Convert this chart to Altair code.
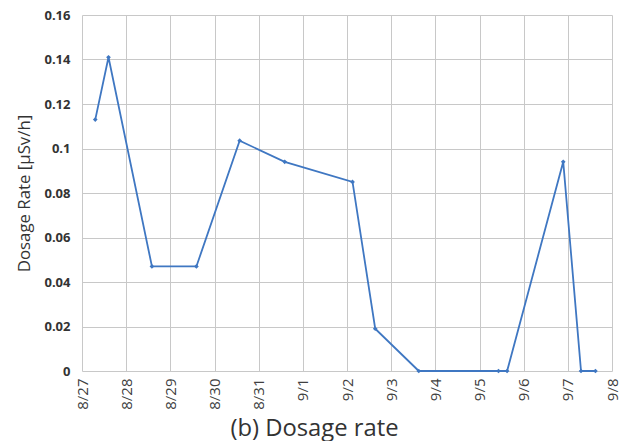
import altair as alt
import pandas as pd

times = [
    "2020-08-27T07:12", "2020-08-27T14:24", "2020-08-28T14:00", "2020-08-29T14:10",
    "2020-08-30T13:40", "2020-08-31T14:10", "2020-09-02T03:00", "2020-09-02T15:20",
    "2020-09-03T15:00", "2020-09-05T10:20", "2020-09-05T15:00", "2020-09-06T21:30",
    "2020-09-07T07:10", "2020-09-07T15:00",
]
dose = [0.113, 0.141, 0.047, 0.047, 0.1035, 0.094, 0.085, 0.019,
        0.0, 0.0, 0.0, 0.094, 0.0, 0.0]

tick_days = [(8, 27), (8, 28), (8, 29), (8, 30), (8, 31), (9, 1), (9, 2),
             (9, 3), (9, 4), (9, 5), (9, 6), (9, 7), (9, 8)]
y_ticks = [0, 0.02, 0.04, 0.06, 0.08, 0.1, 0.12, 0.14, 0.16]

df = pd.DataFrame({"t": times, "v": dose})

tick_vals = [alt.DateTime(year=2020, month=m, date=d, utc=True) for m, d in tick_days]
domain = [tick_vals[0], tick_vals[-1]]

font = "Open Sans"
x = alt.X("t:T", scale=alt.Scale(type="utc", domain=domain),
          axis=alt.Axis(values=tick_vals, format="%-m/%-d", labelAngle=270,
                        title="(b) Dosage rate", titleFontSize=23.8,
                        titleFontWeight="normal", titleColor="#333333",
                        titleFont=font, titleX=232, titleY=64,
                        titleAlign="center", titleBaseline="alphabetic",
                        labelFont=font, labelFontSize=15, labelColor="#404040",
                        labelPadding=7, ticks=False, domain=False,
                        gridColor="#c8c8c8", labelFlush=False))
y = alt.Y("v:Q", scale=alt.Scale(domain=[0, 0.16], nice=False),
          axis=alt.Axis(values=y_ticks, format=".2~f", title="Dosage Rate [μSv/h]",
                        titleFont=font, titleFontSize=16.8, titleFontWeight="normal",
                        titleColor="#333333", titleX=-57.5, titleY=178,
                        titleAlign="center", titleBaseline="middle", titleAngle=270,
                        labelFont=font, labelFontSize=13, labelColor="#333333",
                        labelFontWeight="bold", labelPadding=12,
                        ticks=False, domain=False, gridColor="#c8c8c8"))

color = "#3f77c2"
line = alt.Chart(df).mark_line(color=color, strokeWidth=1.8).encode(x=x, y=y)
pts = alt.Chart(df).mark_point(shape="diamond", filled=True, color=color, size=22,
                               opacity=1).encode(x=x, y=y)

chart = (line + pts).properties(
    width=530, height=356,
    autosize=alt.AutoSizeParams(type="none"),
    padding={"left": 74, "top": 7, "right": 8, "bottom": 70},
    background="white",
).configure_view(stroke=None)

chart.save("out.html", embed_options={"renderer": "svg", "actions": False})
